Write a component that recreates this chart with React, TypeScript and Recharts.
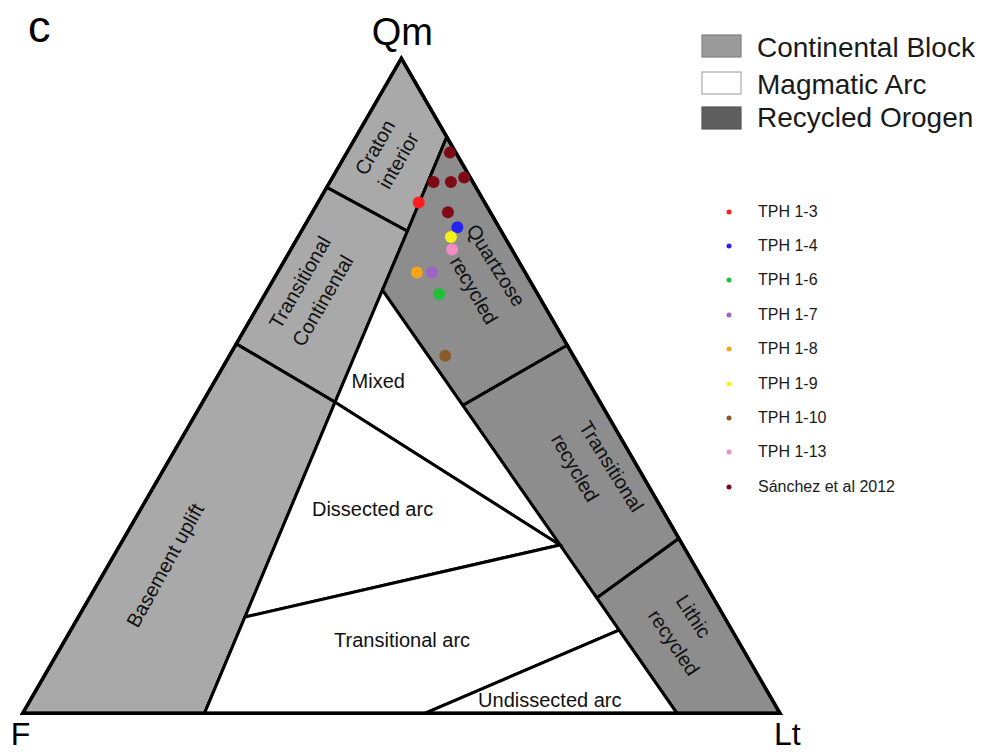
import React from "react";
import { ScatterChart, Scatter, XAxis, YAxis, Legend } from "recharts";

type Comp = [number, number, number]; // [Qm, F, Lt] in %

// apexes and field-boundary nodes
const nodeQm: Comp = [100, 0, 0];
const nodeF: Comp = [0, 100, 0];
const nodeLt: Comp = [0, 0, 100];
const cratonLeft: Comp = [80.3, 19.7, 0];
const basementLeft: Comp = [56.4, 43.6, 0];
const cratonRight: Comp = [88.0, 0, 12.0];
const cratonInner: Comp = [73.6, 12.4, 14.0];
const mixedTop: Comp = [64.6, 20.2, 15.2];
const basementInner: Comp = [47.5, 35.0, 17.5];
const dissectedLeft: Comp = [14.7, 63.3, 22.0];
const basementBase: Comp = [0, 76.0, 24.0];
const recycledBase: Comp = [0, 13.6, 86.4];
const arcJoin: Comp = [25.7, 16.2, 58.1];
const quartzoseInner: Comp = [47.0, 18.4, 34.6];
const quartzoseOuter: Comp = [56.2, 0, 43.8];
const lithicInner: Comp = [17.6, 15.4, 67.0];
const lithicOuter: Comp = [26.7, 0, 73.3];
const undissectedTop: Comp = [12.7, 14.9, 72.4];
const undissectedBase: Comp = [0, 46.9, 53.1];

// samples
const sampleNames = ["TPH 1-3", "TPH 1-4", "TPH 1-6", "TPH 1-7", "TPH 1-8", "TPH 1-9", "TPH 1-10", "TPH 1-13", "Sánchez et al 2012"];
const sampleColors = ["#ff1f1f", "#2424f0", "#1fbf3a", "#a064c8", "#f7a41c", "#f5f21a", "#8b5a2b", "#f48cc4", "#7d0a14"];
const tph13: Comp[] = [[78.0, 8.7, 13.3]];
const tph14: Comp[] = [[74.2, 5.5, 20.3]];
const tph16: Comp[] = [[64.0, 13.0, 23.0]];
const tph17: Comp[] = [[67.3, 12.3, 20.4]];
const tph18: Comp[] = [[67.3, 14.3, 18.4]];
const tph19: Comp[] = [[72.7, 7.1, 20.2]];
const tph110: Comp[] = [[54.6, 16.9, 28.5]];
const tph113: Comp[] = [[70.8, 7.9, 21.3]];
const sanchez2012: Comp[] = [
  [85.6, 0.8, 13.6],
  [81.1, 5.2, 13.7],
  [81.1, 2.9, 16.0],
  [81.8, 0.8, 17.4],
  [76.5, 5.6, 17.9],
];
const samplePoints = [tph13, tph14, tph16, tph17, tph18, tph19, tph110, tph113, sanchez2012];

const fields = [
  { key: "craton", group: "continental", nodes: [nodeQm, cratonRight, cratonInner, cratonLeft] },
  { key: "transCont", group: "continental", nodes: [cratonLeft, cratonInner, basementInner, basementLeft] },
  { key: "basement", group: "continental", nodes: [basementLeft, basementInner, basementBase, nodeF] },
  { key: "quartzose", group: "recycled", nodes: [cratonRight, quartzoseOuter, quartzoseInner, mixedTop, cratonInner] },
  { key: "transRec", group: "recycled", nodes: [quartzoseOuter, lithicOuter, lithicInner, quartzoseInner] },
  { key: "lithic", group: "recycled", nodes: [lithicOuter, nodeLt, recycledBase, lithicInner] },
  { key: "mixed", group: "arc", nodes: [mixedTop, arcJoin, basementInner] },
  { key: "dissected", group: "arc", nodes: [basementInner, arcJoin, dissectedLeft] },
  { key: "transArc", group: "arc", nodes: [dissectedLeft, arcJoin, undissectedTop, undissectedBase, basementBase] },
  { key: "undissected", group: "arc", nodes: [undissectedBase, undissectedTop, recycledBase] },
];

const fieldLabels: { text: string; at: Comp; angle: number }[] = [
  { text: "Craton", at: [86.4, 10.3, 3.3], angle: -60 },
  { text: "interior", at: [84.4, 8.2, 7.4], angle: -60 },
  { text: "Transitional", at: [65.8, 30.5, 3.7], angle: -60 },
  { text: "Continental", at: [63.0, 28.9, 8.1], angle: -60 },
  { text: "Basement uplift", at: [22.6, 69.9, 7.5], angle: -61 },
  { text: "Quartzose", at: [68.4, 3.3, 28.3], angle: 58 },
  { text: "recycled", at: [64.6, 8.1, 27.3], angle: 60 },
  { text: "Transitional", at: [37.7, 3.4, 58.9], angle: 58 },
  { text: "recycled", at: [37.5, 8.3, 54.2], angle: 60 },
  { text: "Lithic", at: [14.8, 4.0, 81.2], angle: 57 },
  { text: "recycled", at: [10.8, 8.6, 80.6], angle: 56 },
  { text: "Mixed", at: [50.7, 27.7, 21.6], angle: 0 },
  { text: "Dissected arc", at: [31.2, 38.2, 30.6], angle: 0 },
  { text: "Transitional arc", at: [11.2, 44.3, 44.5], angle: 0 },
  { text: "Undissected arc", at: [2.0, 29.4, 68.6], angle: 0 },
];

const fieldKey = [
  { name: "Continental Block", fill: "#9b9b9b", stroke: "#808080" },
  { name: "Magmatic Arc", fill: "#ffffff", stroke: "#a8a8a8" },
  { name: "Recycled Orogen", fill: "#5f5f5f", stroke: "#555555" },
];

const font = "'Liberation Sans', Arial, sans-serif";
const fieldFill: Record<string, string> = { continental: "#a9a9a9", arc: "#ffffff", recycled: "#8d8d8d" };

const toXY = ([qm, f, lt]: Comp) => {
  const s = qm + f + lt;
  const q = (qm / s) * 100;
  const l = (lt / s) * 100;
  return { x: l + q / 2, y: (q * Math.sqrt(3)) / 2 };
};

const polygon = (fill: string, strokeWidth: number) => (props: any) => {
  const pts = (props.points || []) as { x: number; y: number }[];
  const d = pts.map((p, i) => `${i ? "L" : "M"}${p.x},${p.y}`).join("") + "Z";
  return <path d={d} fill={fill} stroke="#000" strokeWidth={strokeWidth} strokeLinejoin="miter" />;
};

const noPoint = () => <g />;

const FieldLabel = (props: any) => {
  const { cx, cy, payload } = props;
  return (
    <text
      x={cx}
      y={cy}
      transform={`rotate(${payload.angle} ${cx} ${cy})`}
      textAnchor="middle"
      dominantBaseline="central"
      fontSize={20}
      fontFamily={font}
      fill="#111"
    >
      {payload.text}
    </text>
  );
};

const apexLabels = [
  { text: "Qm", at: nodeQm, dx: 1, dy: -13, anchor: "middle", size: 38 },
  { text: "F", at: nodeF, dx: -12, dy: 32, anchor: "start", size: 32 },
  { text: "Lt", at: nodeLt, dx: -6, dy: 32, anchor: "start", size: 32 },
];

const ApexLabel = (props: any) => {
  const { cx, cy, payload } = props;
  return (
    <text x={cx + payload.dx} y={cy + payload.dy} textAnchor={payload.anchor} fontSize={payload.size} fontFamily={font} fill="#000">
      {payload.text}
    </text>
  );
};

const SampleLegend = (props: any) => {
  const items = (props.payload || [])
    .filter((p: any) => sampleNames.includes(p.value))
    .sort((a: any, b: any) => sampleNames.indexOf(a.value) - sampleNames.indexOf(b.value));
  return (
    <div style={{ fontFamily: font, fontSize: 16, color: "#1a1a1a" }}>
      {items.map((p: any) => (
        <div key={p.value} style={{ display: "flex", alignItems: "center", height: 34.4 }}>
          <svg width={10} height={10} style={{ marginRight: 24 }}>
            <circle cx={5} cy={5} r={2.5} fill={sampleColors[sampleNames.indexOf(p.value)]} />
          </svg>
          <span>{p.value}</span>
        </div>
      ))}
    </div>
  );
};

export default function App() {
  return (
    <div style={{ position: "absolute", left: 0, top: 0, width: 982, height: 753, background: "#fff" }}>
      <ScatterChart width={982} height={753} margin={{ top: 58.3, right: 202, bottom: 39.7, left: 22.7 }}>
        <XAxis type="number" dataKey="x" domain={[0, 100]} hide />
        <YAxis type="number" dataKey="y" domain={[0, 86.6]} hide />
        {fields.map((f) => (
          <Scatter
            key={f.key}
            data={f.nodes.map(toXY)}
            line={polygon(fieldFill[f.group], 3)}
            shape={noPoint}
            legendType="none"
            isAnimationActive={false}
          />
        ))}
        <Scatter
          data={[nodeQm, nodeF, nodeLt].map(toXY)}
          line={polygon("none", 3.5)}
          shape={noPoint}
          legendType="none"
          isAnimationActive={false}
        />
        <Scatter
          data={fieldLabels.map((l) => ({ ...toXY(l.at), text: l.text, angle: l.angle }))}
          shape={FieldLabel}
          legendType="none"
          isAnimationActive={false}
        />
        <Scatter
          data={apexLabels.map((l) => ({ ...toXY(l.at), ...l }))}
          shape={ApexLabel}
          legendType="none"
          isAnimationActive={false}
        />
        {samplePoints.map((pts, i) => (
          <Scatter
            key={sampleNames[i]}
            name={sampleNames[i]}
            data={pts.map(toXY)}
            fill={sampleColors[i]}
            shape={(p: any) => <circle cx={p.cx} cy={p.cy} r={6} fill={sampleColors[i]} />}
            isAnimationActive={false}
          />
        ))}
        <Legend
          layout="vertical"
          align="center"
          verticalAlign="middle"
          content={SampleLegend}
          wrapperStyle={{ left: 724, top: 194.5, width: 240 }}
        />
      </ScatterChart>
      <svg width={982} height={753} style={{ position: "absolute", left: 0, top: 0, pointerEvents: "none" }}>
        <text x={28} y={42} fontSize={45} fontFamily={font} fill="#000">c</text>
        {fieldKey.map((k, i) => {
          const top = [35, 72, 107][i];
          const base = [56.7, 94, 127][i];
          return (
            <g key={k.name}>
              <rect x={702} y={top} width={39} height={22} fill={k.fill} stroke={k.stroke} strokeWidth={1.2} />
              <text x={757} y={base} fontSize={28} fontFamily={font} fill="#1a1a1a">{k.name}</text>
            </g>
          );
        })}
      </svg>
    </div>
  );
}
